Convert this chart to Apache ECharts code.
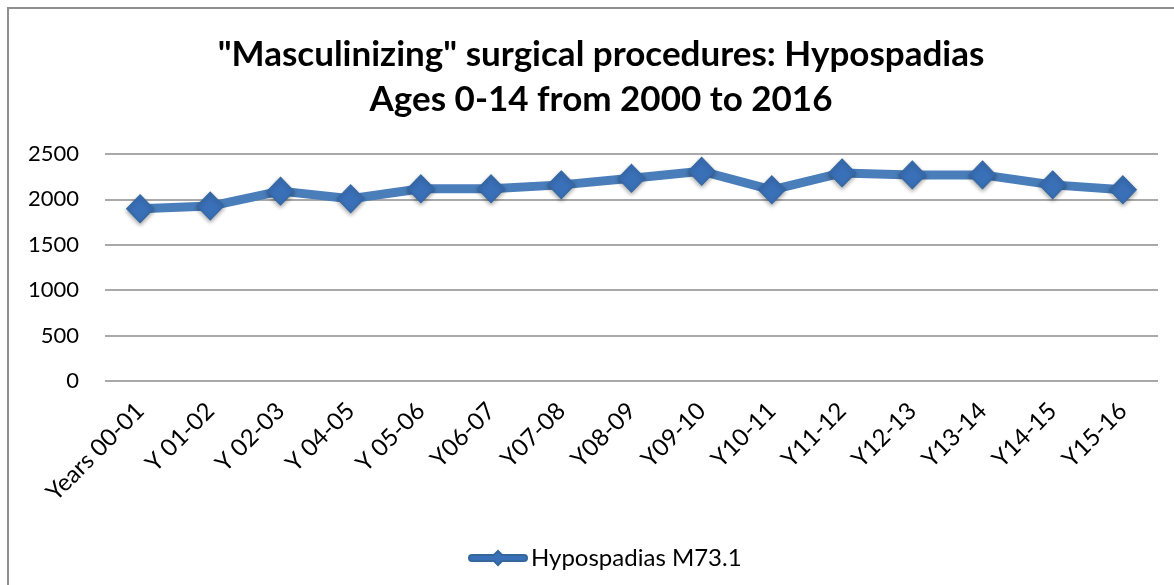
<!DOCTYPE html>
<html>
<head>
<meta charset="utf-8">
<script src="https://cdn.jsdelivr.net/npm/echarts@6/dist/echarts.min.js"></script>
<style>
  html, body { margin: 0; padding: 0; background: #fff; }
  .wrap { position: relative; width: 1174px; height: 585px; overflow: hidden; }
  #chart { width: 1174px; height: 585px; }
  .frame { position: absolute; left: 7px; top: 7px; width: 1200px; height: 620px; border: 2px solid #8f8f8f; pointer-events: none; }
</style>
</head>
<body>
<div class="wrap">
  <div id="chart"></div>
  <div class="frame"></div>
</div>
<script>
const categories = ['Years 00-01', 'Y 01-02', 'Y 02-03', 'Y 04-05', 'Y 05-06', 'Y06-07', 'Y07-08',
  'Y08-09', 'Y09-10', 'Y10-11', 'Y11-12', 'Y12-13', 'Y13-14', 'Y14-15', 'Y15-16']
const hypospadias = [1898, 1927, 2091, 2007, 2117, 2117, 2160, 2233, 2310, 2106, 2292, 2270, 2270, 2160, 2106]
const yTicks = [0, 500, 1000, 1500, 2000, 2500]

const chart = echarts.init(document.getElementById('chart'))

chart.setOption({
  animation: false,
  textStyle: { fontFamily: 'Lato, "DejaVu Sans", sans-serif' },
  title: {
    text: '"Masculinizing" surgical procedures: Hypospadias\nAges 0-14 from 2000 to 2016',
    left: 596,
    top: 27,
    textAlign: 'center',
    textStyle: { fontSize: 35, fontWeight: 'bold', color: '#000', lineHeight: 45 }
  },
  legend: {
    top: 541,
    left: 463,
    itemWidth: 60,
    itemHeight: 14,
    itemGap: 0,
    textStyle: { fontSize: 24, color: '#000', padding: [0, 0, 0, -2] },
    data: [{ name: 'Hypospadias M73.1', icon: 'path://M4,4 L26,4 L30,0 L34,4 L56,4 A3,3 0 0 1 56,10 L34,10 L30,14 L26,10 L4,10 A3,3 0 0 1 4,4 Z' }]
  },
  grid: { left: 105, right: 16, top: 154, bottom: 204 },
  xAxis: {
    type: 'category',
    data: categories,
    boundaryGap: true,
    axisLine: { show: false },
    axisTick: { show: false },
    axisLabel: { rotate: 45, fontSize: 24, color: '#000', margin: 26, interval: 0 }
  },
  yAxis: {
    type: 'value',
    min: yTicks[0],
    max: yTicks[yTicks.length - 1],
    interval: 500,
    axisLine: { show: false },
    axisTick: { show: false },
    axisLabel: { fontSize: 22, color: '#000', margin: 26, formatter: v => String(v) },
    splitLine: { lineStyle: { color: '#8c8c8c', width: 1.5 } }
  },
  series: [
    {
      name: 'Hypospadias M73.1',
      type: 'line',
      data: hypospadias,
      symbol: 'diamond',
      symbolSize: [27, 28],
      lineStyle: { width: 9, color: '#4a7ebb' },
      itemStyle: {
        color: '#3a70b8',
        borderColor: '#35679f',
        borderWidth: 1,
        shadowColor: 'rgba(0,0,0,0.35)',
        shadowBlur: 4,
        shadowOffsetY: 2
      }
    }
  ]
})
</script>
</body>
</html>
